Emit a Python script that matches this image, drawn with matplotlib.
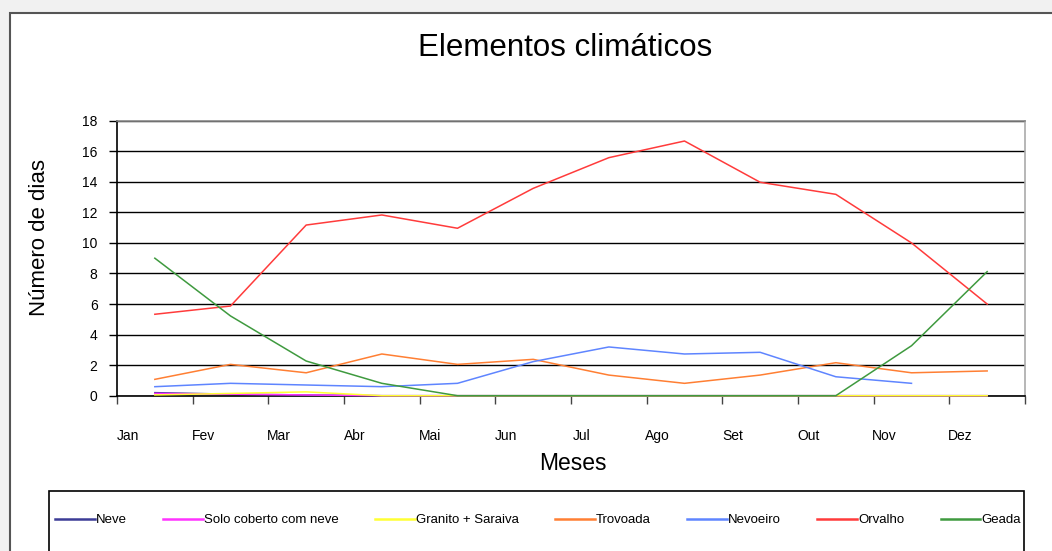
import numpy as np
import matplotlib
matplotlib.use("Agg")
import matplotlib.pyplot as plt
import matplotlib.transforms as mtransforms
from matplotlib.patches import Rectangle

plt.rcParams['font.family'] = ['Liberation Sans', 'DejaVu Sans']

# --------------------------------------------------------------------------
# Data (number of days per month)
# --------------------------------------------------------------------------
meses = ["Jan", "Fev", "Mar", "Abr", "Mai", "Jun",
         "Jul", "Ago", "Set", "Out", "Nov", "Dez"]

neve = [0.2, 0.1, 0.05, 0, 0, 0, 0, 0, 0, 0, 0, 0]
solo_coberto = [0.15, 0.1, 0.05, 0, 0, 0, 0, 0, 0, 0, 0, 0]
granito = [0.05, 0.15, 0.25, 0, 0, 0, 0, 0, 0, 0, 0, 0]
trovoada = [1.07, 2.05, 1.5, 2.73, 2.05, 2.38, 1.35, 0.81, 1.35, 2.16, 1.5, 1.62]
nevoeiro = [0.59, 0.81, 0.7, 0.59, 0.81, 2.23, 3.19, 2.73, 2.84, 1.24, 0.81, np.nan]
orvalho = [5.33, 5.87, 11.17, 11.83, 10.96, 13.57, 15.58, 16.67, 13.97, 13.18, 10.0, 6.0]
geada = [9.0, 5.22, 2.27, 0.81, 0, 0, 0, 0, 0, 0, 3.27, 8.12]

series = [("Neve", neve, "#3c3c96"),
          ("Solo coberto com neve", solo_coberto, "#ff33ff"),
          ("Granito + Saraiva", granito, "#ffff33"),
          ("Trovoada", trovoada, "#ff7f33"),
          ("Nevoeiro", nevoeiro, "#5f85ff"),
          ("Orvalho", orvalho, "#ff3b3b"),
          ("Geada", geada, "#3f9a3f")]

# --------------------------------------------------------------------------
# Figure and chart frame
# --------------------------------------------------------------------------
W, H = 1052, 551
fig = plt.figure(figsize=(W / 100, H / 100), dpi=100, facecolor="#f1f1f1")
fig.patches.append(Rectangle((10 / W, -0.1), 1.1, 1 - 13 / H + 0.1,
                             transform=fig.transFigure, facecolor="white",
                             edgecolor="#555555", linewidth=1.5, zorder=-2))

ax = fig.add_axes([117 / W, 1 - 395.7 / H, (1025 - 117) / W, (395.7 - 120.7) / H])
ax.set_facecolor("none")
x = np.arange(len(meses))
for name, vals, clr in series:
    ax.plot(x, vals, color=clr, linewidth=1.1, label=name, zorder=3, clip_on=False)

ax.set_xlim(-0.5, len(meses) - 0.5)
ax.set_ylim(0, 18)
ax.set_yticks(np.arange(0, 19, 2))
ax.yaxis.grid(True, color="black", linewidth=1.0)
ax.set_axisbelow(True)

# tick marks on category borders, month names as minor ticks
ax.set_xticks(np.arange(-0.5, len(meses), 1.0))
ax.set_xticklabels([])
ax.set_xticks(x, minor=True)
ax.set_xticklabels(meses, minor=True, fontsize=10)
ax.tick_params(axis="x", which="minor", length=0, pad=24)
ax.tick_params(axis="x", which="major", length=6, width=1, color="#444444")
ax.tick_params(axis="y", length=6, width=1, labelsize=10, pad=8)
shift = mtransforms.ScaledTranslation(-0.27, 0, fig.dpi_scale_trans)
for lbl in ax.get_xticklabels(minor=True):
    lbl.set_transform(lbl.get_transform() + shift)

ax.spines["left"].set_color("black")
ax.spines["bottom"].set_color("black")
ax.spines["top"].set_color("#888888")
ax.spines["right"].set_color("#aaaaaa")
for s in ax.spines.values():
    s.set_linewidth(1.2)

fig.text(565 / W, 1 - 48 / H, "Elementos climáticos", ha="center", va="center",
         fontsize=22.5)
fig.text(40 / W, 1 - 238 / H, "Número de dias", ha="center", va="center",
         rotation=90, fontsize=16)
fig.text(573 / W, 1 - 463 / H, "Meses", ha="center", va="center", fontsize=16.5)

# --------------------------------------------------------------------------
# Legend box
# --------------------------------------------------------------------------
fig.patches.append(Rectangle((49 / W, -0.1), (1024 - 49) / W, 1 - 491 / H + 0.1,
                             transform=fig.transFigure, facecolor="white",
                             edgecolor="black", linewidth=1.2, zorder=-1))
leg = fig.legend(loc="center", bbox_to_anchor=(538 / W, 1 - 520 / H), ncol=7,
                 frameon=False, fontsize=9.5, handlelength=3.0, handletextpad=0.1,
                 columnspacing=2.75)
for ln in leg.get_lines():
    ln.set_linewidth(1.8)

fig.savefig("out.png", dpi=100, facecolor=fig.get_facecolor())
